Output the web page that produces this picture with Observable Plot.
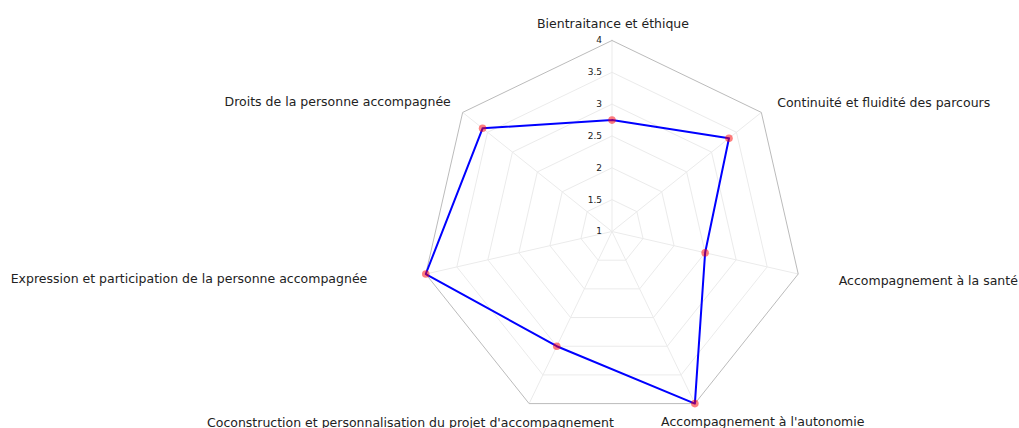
<!DOCTYPE html>
<html><head><meta charset="utf-8">
<script src="https://cdn.jsdelivr.net/npm/d3@7"></script>
<script src="https://cdn.jsdelivr.net/npm/@observablehq/plot@0.6"></script>
<style>body{margin:0;background:#fff;overflow:hidden}#chart svg{display:block}</style>
</head><body><div id="chart"></div>
<script>
// ---- data ----
const axes = [
  "Bientraitance et éthique",
  "Continuité et fluidité des parcours",
  "Accompagnement à la santé",
  "Accompagnement à l'autonomie",
  "Coconstruction et personnalisation du projet d'accompagnement",
  "Expression et participation de la personne accompagnée",
  "Droits de la personne accompagnée"
];
const values = [2.75, 3.35, 2.5, 4, 3, 4, 3.6];
const tickValues = [1, 1.5, 2, 2.5, 3, 3.5, 4];
const tickLabels = ["1", "1.5", "2", "2.5", "3", "3.5", "4"];

// ---- layout ----
const W = 1019, H = 428, cx = 611.5, cy = 231, k = 63.67;
const rMin = 1, rMax = 4;
const n = axes.length;
const ang = i => 2 * Math.PI * i / n;
const px = (v, i) => (v - rMin) * Math.sin(ang(i));
const py = (v, i) => (v - rMin) * Math.cos(ang(i));
const labelR = rMin + 210 / k;
const labelLayout = [
  {anchor: "middle", dx: 1, dy: 2},
  {anchor: "start", dx: 1, dy: 2},
  {anchor: "start", dx: 22, dy: 3},
  {anchor: "start", dx: -42, dy: 1},
  {anchor: "end", dx: 93, dy: 2},
  {anchor: "end", dx: -40, dy: 1},
  {anchor: "end", dx: 3, dy: 1}
];

const ringPts = t => d3.range(n + 1).map(i => ({t, x: px(t, i % n), y: py(t, i % n)}));
const innerRings = tickValues.filter(t => t > rMin && t < rMax).flatMap(ringPts);
const outerRing = ringPts(rMax);
const spokes = axes.map((a, i) => ({x1: 0, y1: 0, x2: px(rMax, i), y2: py(rMax, i)}));
const series = values.map((v, i) => ({axis: axes[i], v, x: px(v, i), y: py(v, i)}));
const seriesClosed = [...series, series[0]];
const labels = axes.map((a, i) => ({a, i, x: px(labelR, i), y: py(labelR, i)}));

const labelMarks = labels.map(d => Plot.text([d], {
  x: "x", y: "y", text: "a",
  textAnchor: labelLayout[d.i].anchor,
  dx: labelLayout[d.i].dx, dy: labelLayout[d.i].dy,
  fontSize: 12.5, fill: "#222"
}));

const chart = Plot.plot({
  width: W, height: H,
  marginTop: 0, marginBottom: 0, marginLeft: 0, marginRight: 0,
  style: {fontFamily: "'DejaVu Sans', sans-serif", background: "#fff"},
  x: {domain: [-cx / k, (W - cx) / k], range: [0, W], axis: null},
  y: {domain: [-(H - cy) / k, cy / k], range: [H, 0], axis: null},
  marks: [
    Plot.line(innerRings, {x: "x", y: "y", z: "t", stroke: "#ebebeb", strokeWidth: 1}),
    Plot.link(spokes, {x1: "x1", y1: "y1", x2: "x2", y2: "y2", stroke: "#ebebeb", strokeWidth: 1}),
    Plot.line(outerRing, {x: "x", y: "y", stroke: "#bbbbbb", strokeWidth: 1}),
    Plot.text(tickValues, {
      x: () => 0, y: d => d - rMin,
      text: (d, i) => tickLabels[i],
      textAnchor: "end", dx: -10, fontSize: 9, fill: "#222"
    }),
    Plot.line(seriesClosed, {x: "x", y: "y", stroke: "#0000ff", strokeWidth: 2, curve: "linear"}),
    Plot.dot(series, {x: "x", y: "y", r: 3.8, fill: "#ff0000", fillOpacity: 0.5, stroke: "none"}),
    ...labelMarks
  ]
});
document.getElementById("chart").append(chart);
</script>
</body></html>
